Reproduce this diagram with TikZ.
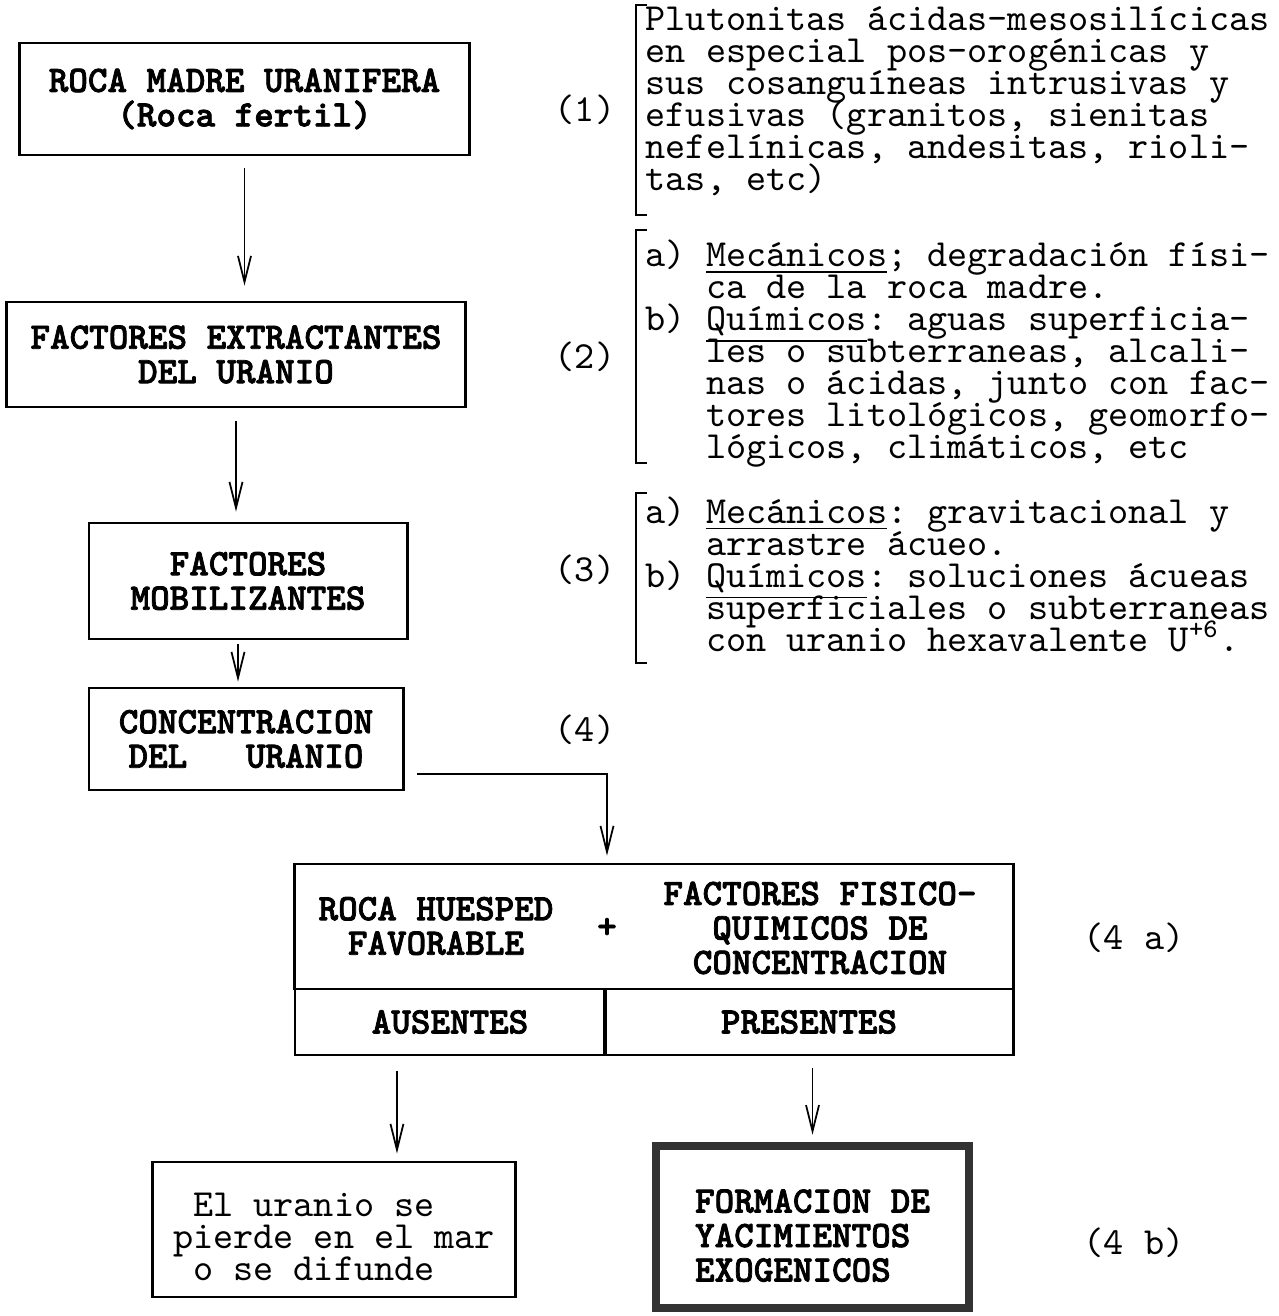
\documentclass[tikz,border=0pt]{standalone}
\usepackage{fontspec}
\usepackage{tikz}
\usetikzlibrary{arrows.meta}

\newfontfamily\negrita{lmmonolt10-bold.otf}[FakeBold=2]
\newcommand{\titulo}{\negrita\frenchspacing\fontsize{10.6}{9.8}\selectfont\lineskiplimit=-\maxdimen}
\newcommand{\maquina}{\ttfamily\frenchspacing\fontsize{10.9}{9.1}\selectfont\lineskiplimit=-\maxdimen}

\tikzset{
	caja/.style={draw, line width=0.8pt, inner sep=0pt, align=center, font=\titulo},
	rotulo/.style={inner sep=0pt, align=center, font=\titulo},
	marco/.style={draw=black!80, line width=2.4pt, inner sep=0pt, align=left, font=\titulo},
	nota/.style={inner sep=0pt, align=left, font=\maquina},
	flecha/.style={->, line width=0.5pt},
	corchete/.style={line width=0.6pt},
}

\begin{document}
\begin{tikzpicture}[x=0.01cm, y=-0.01cm, >={Straight Barb[length=2.6mm,width=1.3mm]}]

% frame %{{{2

	\useasboundingbox (0,0) rectangle (1278,1316);

% boxes, left column %{{{2

	\node[caja, minimum width=4.49cm, minimum height=1.12cm] (roca) at (244.5,99)
		{ROCA MADRE URANIFERA\\(Roca fertil)};
	\node[caja, minimum width=4.58cm, minimum height=1.05cm] (extractantes) at (236,354.5)
		{FACTORES EXTRACTANTES\\DEL URANIO};
	\node[caja, minimum width=3.18cm, minimum height=1.16cm] (mobilizantes) at (248,581)
		{FACTORES\\MOBILIZANTES};
	\node[caja, minimum width=3.14cm, minimum height=1.02cm] (concentracion) at (246,739)
		{CONCENTRACION\\DEL~~~URANIO};

% condition table %{{{2

	\node[caja, minimum width=7.18cm, minimum height=1.25cm] (condicion) at (654,926.5) {};
	\node[caja, minimum width=3.10cm, minimum height=0.66cm] (ausentes) at (450,1022) {AUSENTES};
	\node[caja, minimum width=4.08cm, minimum height=0.66cm] (presentes) at (809,1022) {PRESENTES};

	\node[rotulo] (huesped) at (436,926) {ROCA HUESPED\\FAVORABLE};
	\node[rotulo] (mas) at (607,928) {+};
	\node[rotulo] (fisico) at (820,928) {FACTORES FISICO-\\QUIMICOS DE\\CONCENTRACION};

% results %{{{2

	\node[nota, draw, line width=0.8pt, minimum width=3.62cm, minimum height=1.35cm] (perdida) at (334,1229.5)
		{\rule{0pt}{11pt}~El uranio se\\pierde en el mar\\~o se difunde};
	\node[marco, minimum width=3.13cm, minimum height=1.62cm] (yacimientos) at (812.5,1227)
		{\rule{0pt}{11.5pt}FORMACION DE\\YACIMIENTOS\\EXOGENICOS};

% brackets %{{{2

	\foreach \arriba/\abajo in {5/215, 230/463, 493/663} {
		\draw[corchete] (647,\arriba) -- (636,\arriba) -- (636,\abajo) -- (647,\abajo);
	}

% bracket texts %{{{2

	\node[nota, anchor=west] (plutonitas) at (645,101)
		{Plutonitas ácidas-mesosilícicas\\en especial pos-orogénicas y\\sus cosanguíneas intrusivas y\\efusivas (granitos, sienitas\\nefelínicas, andesitas, rioli-\\tas, etc)};
	\node[nota, anchor=west] (extraccion) at (645,354)
		{a) \underline{Mecánicos}; degradación físi-\\~~~ca de la roca madre.\\b) \underline{Químicos}: aguas superficia-\\~~~les o subterraneas, alcali-\\~~~nas o ácidas, junto con fac-\\~~~tores litológicos, geomorfo-\\~~~lógicos, climáticos, etc};
	\node[nota, anchor=west] (movilizacion) at (645,574)
		{a) \underline{Mecánicos}: gravitacional y\\~~~arrastre ácueo.\\b) \underline{Químicos}: soluciones ácueas\\~~~superficiales o subterraneas\\~~~con uranio hexavalente U\textsuperscript{+6}.};

% stage labels %{{{2

	\node[nota] (n1) at (585,110) {(1)};
	\node[nota] (n2) at (585,357) {(2)};
	\node[nota] (n3) at (585,570) {(3)};
	\node[nota] (n4) at (585,730) {(4)};
	\node[nota, anchor=west] (n4a) at (1083,938) {(4 a)};
	\node[nota, anchor=west] (n4b) at (1083,1243) {(4 b)};

% connectors %{{{2

	\coordinate (salida) at (417,774);

	\draw[flecha, shorten <=1.2mm, shorten >=1.5mm] (roca.south) -- (roca.south |- extractantes.north);
	\draw[flecha, shorten <=1.3mm, shorten >=1mm] (extractantes.south) -- (extractantes.south |- mobilizantes.north);
	\draw[flecha, shorten <=0.4mm, shorten >=0.5mm] ([xshift=-1mm]mobilizantes.south) -- ([xshift=-1mm]mobilizantes.south |- concentracion.north);
	\draw[flecha, shorten >=0.7mm] (salida) -| (mas |- condicion.north);
	\draw[flecha, shorten <=1.5mm, shorten >=0.7mm] ([xshift=-5.3mm]ausentes.south) -- ([xshift=-5.3mm]ausentes.south |- perdida.north);
	\draw[flecha, shorten <=1.2mm, shorten >=0.7mm] (presentes.south -| yacimientos.north) -- (yacimientos.north);

\end{tikzpicture}
\end{document}
